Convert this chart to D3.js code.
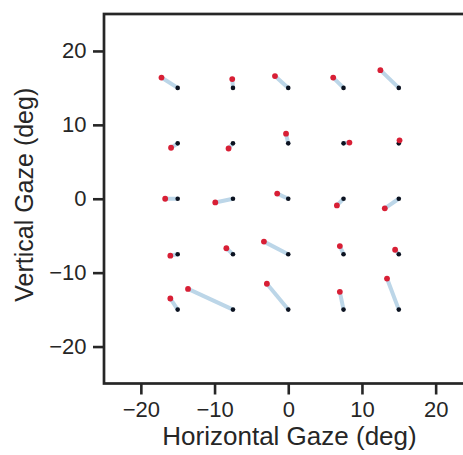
<!DOCTYPE html>
<html>
<head>
<meta charset="utf-8">
<script src="https://cdn.jsdelivr.net/npm/d3@7"></script>
<style>
  html, body { margin: 0; padding: 0; background: #fff; }
  svg { display: block; }
  text { font-family: "Liberation Sans", Arial, sans-serif; fill: #262626; }
</style>
</head>
<body>
<svg id="chart" width="463" height="455"></svg>
<script>
// Fixation targets (deg)
const targetX = [-15, -7.5, 0, 7.5, 15,  -15, -7.5, 0, 7.5, 15,  -15, -7.5, 0, 7.5, 15,  -15, -7.5, 0, 7.5, 15,  -15, -7.5, 0, 7.5, 15];
const targetY = [15, 15, 15, 15, 15,  7.5, 7.5, 7.5, 7.5, 7.5,  0, 0, 0, 0, 0,  -7.5, -7.5, -7.5, -7.5, -7.5,  -15, -15, -15, -15, -15];

// Estimated gaze for each target (deg)
const gazeX = [-17.2, -7.6, -1.8, 6.1, 12.5,  -15.9, -8.1, -0.3, 8.3, 15.1,  -16.7, -9.9, -1.5, 6.6, 13.1,  -16.0, -8.4, -3.3, 7.0, 14.5,  -16.0, -13.6, -2.9, 7.0, 13.4];
const gazeY = [16.4, 16.2, 16.6, 16.4, 17.4,  6.9, 6.8, 8.8, 7.6, 7.9,  0.0, -0.5, 0.7, -0.9, -1.3,  -7.7, -6.7, -5.8, -6.4, -6.9,  -13.5, -12.2, -11.5, -12.6, -10.8];

const xTicks = [-20, -10, 0, 10, 20];
const yTicks = [-20, -10, 0, 10, 20];
const xDomain = [-25, 25];
const yDomain = [-25, 25];

const svg = d3.select("#chart");
const ink = "#262626";

const plot = { left: 104, right: 472.5, top: 14, bottom: 383.5 };
const x = d3.scaleLinear().domain(xDomain).range([plot.left, plot.right]);
const y = d3.scaleLinear().domain(yDomain).range([plot.bottom, plot.top]);

const pairs = targetX.map((tx, i) => ({ tx, ty: targetY[i], gx: gazeX[i], gy: gazeY[i] }));

// error segments from target to gaze
svg.append("g").selectAll("line")
  .data(pairs).join("line")
  .attr("x1", d => x(d.tx)).attr("y1", d => y(d.ty))
  .attr("x2", d => x(d.gx)).attr("y2", d => y(d.gy))
  .attr("stroke", "#bcd6e8").attr("stroke-width", 4).attr("stroke-linecap", "butt");

// target markers
svg.append("g").selectAll("circle")
  .data(pairs).join("circle")
  .attr("cx", d => x(d.tx)).attr("cy", d => y(d.ty))
  .attr("r", 2.3).attr("fill", "#0b1220");

// gaze markers
svg.append("g").selectAll("circle")
  .data(pairs).join("circle")
  .attr("cx", d => x(d.gx)).attr("cy", d => y(d.gy))
  .attr("r", 2.9).attr("fill", "#d81f35");

// axes
const xAxis = d3.axisBottom(x).tickValues(xTicks).tickSize(11).tickPadding(7)
  .tickFormat(d => d < 0 ? "\u2212" + Math.abs(d) : String(d));
const yAxis = d3.axisLeft(y).tickValues(yTicks).tickSize(11).tickPadding(6.5)
  .tickFormat(d => d < 0 ? "\u2212" + Math.abs(d) : String(d));

const gx = svg.append("g").attr("transform", `translate(0,${plot.bottom})`).call(xAxis);
const gy = svg.append("g").attr("transform", `translate(${plot.left},0)`).call(yAxis);
[gx, gy].forEach(g => {
  g.select(".domain").remove();
  g.selectAll(".tick line").attr("stroke", ink).attr("stroke-width", 2.6);
  g.selectAll(".tick text").attr("fill", ink).style("font-size", "22px")
    .style("font-family", "'Liberation Sans', Arial, sans-serif");
});

// frame
svg.append("rect")
  .attr("x", plot.left).attr("y", plot.top)
  .attr("width", plot.right - plot.left).attr("height", plot.bottom - plot.top)
  .attr("fill", "none").attr("stroke", ink).attr("stroke-width", 2.7);

// axis titles
svg.append("text")
  .attr("x", 289.5).attr("y", 445)
  .attr("text-anchor", "middle").style("font-size", "26px")
  .text("Horizontal Gaze (deg)");

svg.append("text")
  .attr("transform", `translate(33,${(plot.top + plot.bottom) / 2 - 4}) rotate(-90)`)
  .attr("text-anchor", "middle").style("font-size", "25px")
  .text("Vertical Gaze (deg)");
</script>
</body>
</html>
